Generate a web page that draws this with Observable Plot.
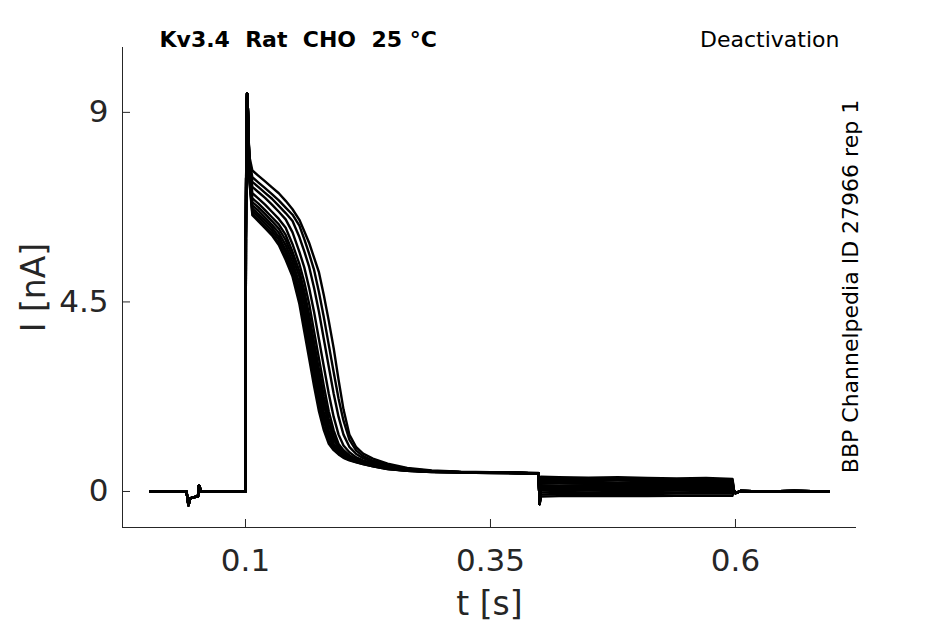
<!DOCTYPE html>
<html>
<head>
<meta charset="utf-8">
<script src="https://cdn.jsdelivr.net/npm/d3@7"></script>
<script src="https://cdn.jsdelivr.net/npm/@observablehq/plot@0.6"></script>
<style>
  html, body { margin: 0; padding: 0; background: #fff; }
  #chart svg text { white-space: pre; }
</style>
</head>
<body>
<div id="chart"></div>
<script>
// ---- texts and ticks ----
const titleText = "Kv3.4\u00A0\u00A0Rat\u00A0\u00A0CHO\u00A0\u00A025 °C";
const protocolText = "Deactivation";
const sideText = "BBP Channelpedia ID 27966 rep 1";
const xLabel = "t [s]";
const yLabel = "I [nA]";
const xTicks = [0.1, 0.35, 0.6];
const yTicks = [0, 4.5, 9];
const xDomain = [-0.0255, 0.7235];
const yDomain = [-0.855, 10.54];

// ---- shared segments (s, nA) ----
const preT = [0.003, 0.0398, 0.0418, 0.0435, 0.046, 0.0515, 0.0524, 0.0532, 0.0545, 0.0998];
const preI = [0.0, 0.0, -0.33, -0.17, -0.14, -0.12, 0.14, 0.12, 0.0, 0.0];
const spikeT = [0.1000, 0.1004, 0.1010, 0.1016, 0.1024, 0.1032];
const spikeI = [0.0, 6.0, 8.9, 9.45, 9.1, 8.4];
const stepT = [0.4002];
const stepI = [-0.3];
const postT = [0.5985, 0.6000, 0.6050, 0.6300, 0.6600, 0.6950];
const postI = [0.02, -0.04, 0.01, 0.0, 0.01, 0.0];

// ---- depolarising pulse, one array per sweep ----
const pulseT = [0.104, 0.107, 0.113, 0.120, 0.127, 0.134, 0.141, 0.148, 0.155, 0.160, 0.165, 0.170, 0.175, 0.180, 0.185, 0.190, 0.195, 0.200, 0.206, 0.213, 0.220, 0.230, 0.245, 0.265, 0.290, 0.320, 0.350, 0.380, 0.399];
const sweep0  = [7.95, 7.62, 7.50, 7.36, 7.22, 7.08, 6.90, 6.70, 6.45, 6.18, 5.90, 5.55, 5.20, 4.65, 4.05, 3.40, 2.65, 1.95, 1.35, 1.05, 0.90, 0.78, 0.66, 0.56, 0.50, 0.47, 0.46, 0.45, 0.44];
const sweep1  = [7.85, 7.46, 7.34, 7.20, 7.06, 6.91, 6.74, 6.57, 6.31, 5.99, 5.64, 5.26, 4.73, 4.13, 3.48, 2.83, 2.20, 1.68, 1.23, 0.97, 0.84, 0.73, 0.64, 0.54, 0.49, 0.46, 0.45, 0.44, 0.43];
const sweep2  = [7.80, 7.35, 7.23, 7.09, 6.95, 6.78, 6.61, 6.42, 6.04, 5.70, 5.33, 4.83, 4.26, 3.61, 2.96, 2.32, 1.77, 1.35, 1.06, 0.89, 0.79, 0.70, 0.62, 0.53, 0.48, 0.46, 0.45, 0.44, 0.43];
const sweep3  = [7.75, 7.23, 7.11, 6.97, 6.81, 6.64, 6.46, 6.15, 5.69, 5.32, 4.83, 4.26, 3.61, 2.96, 2.32, 1.77, 1.35, 1.09, 0.93, 0.81, 0.74, 0.67, 0.59, 0.52, 0.48, 0.46, 0.45, 0.44, 0.43];
const sweep4  = [7.70, 7.08, 6.96, 6.81, 6.64, 6.47, 6.26, 5.87, 5.40, 4.97, 4.45, 3.80, 3.15, 2.50, 1.90, 1.45, 1.13, 0.98, 0.86, 0.77, 0.71, 0.65, 0.58, 0.51, 0.47, 0.46, 0.45, 0.44, 0.43];
const sweep5  = [7.65, 6.96, 6.84, 6.68, 6.51, 6.34, 6.09, 5.69, 5.23, 4.76, 4.19, 3.54, 2.89, 2.26, 1.72, 1.32, 1.07, 0.94, 0.83, 0.75, 0.70, 0.64, 0.57, 0.51, 0.47, 0.46, 0.45, 0.44, 0.43];
const sweep6  = [7.60, 6.87, 6.75, 6.59, 6.42, 6.24, 5.97, 5.57, 5.10, 4.60, 4.00, 3.35, 2.70, 2.08, 1.59, 1.23, 1.03, 0.91, 0.81, 0.74, 0.69, 0.63, 0.56, 0.50, 0.47, 0.46, 0.45, 0.44, 0.43];
const sweep7  = [7.55, 6.79, 6.67, 6.50, 6.33, 6.14, 5.85, 5.45, 4.94, 4.45, 3.80, 3.15, 2.50, 1.90, 1.45, 1.13, 0.98, 0.88, 0.79, 0.73, 0.68, 0.62, 0.55, 0.50, 0.47, 0.46, 0.45, 0.44, 0.43];
const sweep8  = [7.50, 6.72, 6.59, 6.43, 6.26, 6.05, 5.74, 5.34, 4.79, 4.26, 3.61, 2.96, 2.32, 1.77, 1.35, 1.09, 0.95, 0.86, 0.78, 0.71, 0.67, 0.62, 0.55, 0.50, 0.47, 0.46, 0.45, 0.44, 0.43];
const sweep9  = [7.45, 6.66, 6.53, 6.36, 6.19, 5.98, 5.66, 5.26, 4.69, 4.13, 3.48, 2.83, 2.20, 1.68, 1.29, 1.06, 0.93, 0.84, 0.77, 0.71, 0.66, 0.61, 0.54, 0.49, 0.47, 0.46, 0.45, 0.44, 0.43];
const sweep10 = [7.40, 6.60, 6.46, 6.29, 6.12, 5.90, 5.56, 5.16, 4.54, 3.93, 3.28, 2.63, 2.02, 1.54, 1.19, 1.01, 0.90, 0.81, 0.75, 0.70, 0.65, 0.60, 0.53, 0.49, 0.46, 0.45, 0.44, 0.43, 0.43];
const sweep11 = [7.35, 6.56, 6.42, 6.25, 6.08, 5.85, 5.50, 5.10, 4.45, 3.80, 3.15, 2.50, 1.90, 1.45, 1.13, 0.98, 0.88, 0.80, 0.74, 0.69, 0.65, 0.60, 0.53, 0.49, 0.46, 0.45, 0.44, 0.43, 0.43];

// ---- tail (deactivation step), one array per sweep ----
const tailT = [0.4015, 0.42, 0.45, 0.48, 0.51, 0.54, 0.57, 0.597];
const tail0  = [0.35, 0.34, 0.33, 0.34, 0.32, 0.31, 0.32, 0.30];
const tail1  = [0.31, 0.30, 0.31, 0.29, 0.29, 0.28, 0.28, 0.27];
const tail2  = [0.27, 0.27, 0.26, 0.26, 0.25, 0.25, 0.24, 0.24];
const tail3  = [0.23, 0.22, 0.23, 0.21, 0.22, 0.21, 0.20, 0.20];
const tail4  = [0.19, 0.19, 0.18, 0.18, 0.17, 0.18, 0.17, 0.17];
const tail5  = [0.15, 0.14, 0.15, 0.14, 0.13, 0.14, 0.13, 0.13];
const tail6  = [0.11, 0.11, 0.10, 0.11, 0.10, 0.10, 0.09, 0.10];
const tail7  = [0.07, 0.06, 0.07, 0.06, 0.06, 0.07, 0.06, 0.06];
const tail8  = [0.03, 0.03, 0.02, 0.03, 0.03, 0.02, 0.03, 0.03];
const tail9  = [-0.02, -0.01, -0.02, -0.01, -0.01, -0.02, -0.01, -0.01];
const tail10 = [-0.07, -0.06, -0.06, -0.05, -0.06, -0.05, -0.05, -0.05];
const tail11 = [-0.12, -0.11, -0.11, -0.10, -0.11, -0.10, -0.10, -0.10];

const pulses = [sweep0, sweep1, sweep2, sweep3, sweep4, sweep5, sweep6, sweep7, sweep8, sweep9, sweep10, sweep11];
const tails = [tail0, tail1, tail2, tail3, tail4, tail5, tail6, tail7, tail8, tail9, tail10, tail11];

const rows = [];
pulses.forEach((p, k) => {
  const add = (T, I) => T.forEach((t, i) => rows.push({sweep: k, t, I: I[i]}));
  add(preT, preI);
  add(spikeT, spikeI);
  add(pulseT, p);
  add(stepT, stepI);
  add(tailT, tails[k]);
  add(postT, postI);
});

const ink = "#262626";
const chart = Plot.plot({
  width: 945,
  height: 624,
  marginLeft: 122,
  marginRight: 89,
  marginTop: 47,
  marginBottom: 97,
  style: {fontFamily: "DejaVu Sans", background: "#fff", color: ink, overflow: "visible"},
  x: {domain: xDomain},
  y: {domain: yDomain},
  marks: [
    Plot.ruleX([xDomain[0]], {stroke: ink, strokeWidth: 1}),
    Plot.ruleY([yDomain[0]], {stroke: ink, strokeWidth: 1}),
    Plot.axisX({ticks: xTicks, tickFormat: d => String(d), tickSize: -8, tickPadding: 29, fontSize: 31, label: null, stroke: ink, fill: ink}),
    Plot.axisY({ticks: yTicks, tickFormat: d => String(d), tickSize: -8, tickPadding: 22, fontSize: 31, label: null, stroke: ink, fill: ink}),
    Plot.line(rows, {x: "t", y: "I", z: "sweep", stroke: "black", strokeWidth: 2.4, strokeLinejoin: "round"}),
    Plot.text([xLabel], {text: d => d, frameAnchor: "bottom", textAnchor: "middle", lineAnchor: "middle", dy: 77, fontSize: 33, fill: ink}),
    Plot.text([yLabel], {text: d => d, frameAnchor: "left", textAnchor: "middle", lineAnchor: "middle", dx: -88, rotate: -90, fontSize: 33, fill: ink}),
    Plot.text([titleText], {text: d => d, frameAnchor: "top-left", textAnchor: "start", lineAnchor: "middle", dx: 37, dy: -8, fontSize: 22, fontWeight: "bold", fill: "#000"}),
    Plot.text([protocolText], {text: d => d, frameAnchor: "top-right", textAnchor: "end", lineAnchor: "middle", dx: -17, dy: -8, fontSize: 22, fill: "#000"}),
    Plot.text([sideText], {text: d => d, frameAnchor: "right", textAnchor: "middle", lineAnchor: "middle", dx: -6, dy: -1, rotate: -90, fontSize: 22, fill: "#000"})
  ]
});
document.getElementById("chart").appendChild(chart);
</script>
</body>
</html>
